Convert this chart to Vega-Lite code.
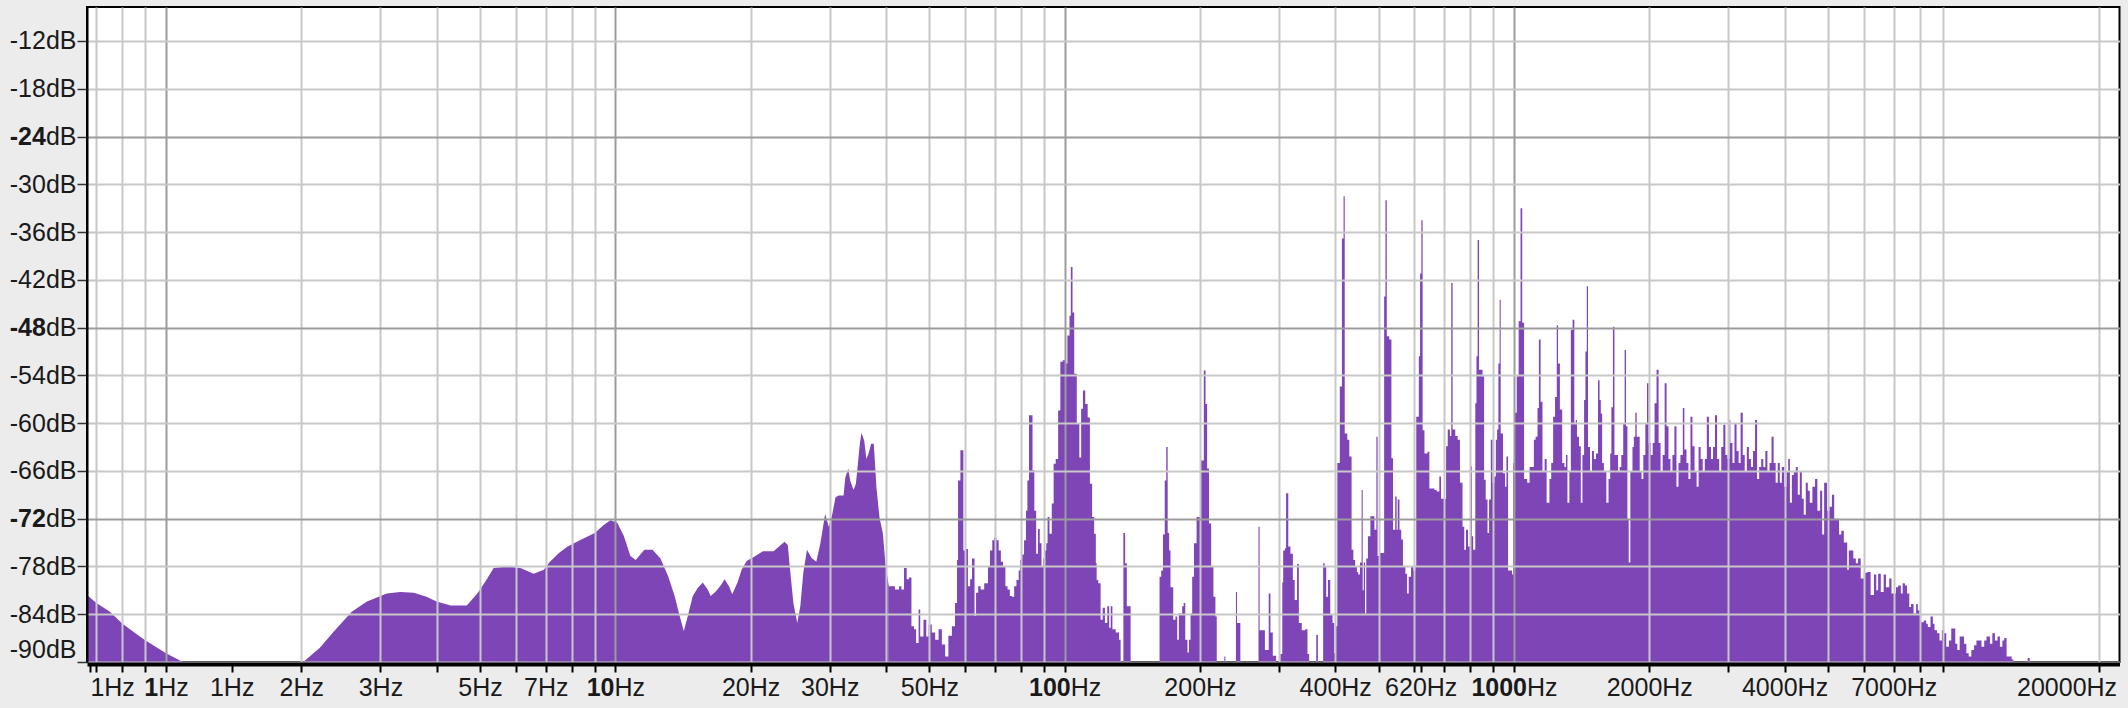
{
  "$schema": "https://vega.github.io/schema/vega-lite/v6.json",
  "width": 2032.5,
  "height": 655,
  "autosize": {"type": "none"},
  "padding": {"left": 87, "top": 7, "right": 8.5, "bottom": 46},
  "background": "#ececec",
  "view": {"fill": "#ffffff", "stroke": "#000000", "strokeWidth": 2},
  "config": {"axis": {"labelFont": "Liberation Sans", "labelFontSize": 25, "labelColor": "#1a1a1a"}},
  "datasets": {
    "smooth": [
      {"f": 0.667, "db": -81.6}, {"f": 0.7, "db": -82.6}, {"f": 0.75, "db": -83.7}, {"f": 0.8, "db": -85.2}, {"f": 0.89, "db": -87.1}, {"f": 1.0, "db": -88.9}, {"f": 1.09, "db": -90},
      {"f": 2.02, "db": -90}, {"f": 2.2, "db": -88.2}, {"f": 2.36, "db": -86.2}, {"f": 2.59, "db": -83.7}, {"f": 2.8, "db": -82.4}, {"f": 3.1, "db": -81.4}, {"f": 3.32, "db": -81.2}, {"f": 3.56, "db": -81.3}, {"f": 3.8, "db": -81.8}, {"f": 4.0, "db": -82.4}, {"f": 4.3, "db": -82.9}, {"f": 4.67, "db": -82.9}, {"f": 4.93, "db": -81.4}, {"f": 5.15, "db": -79.8}, {"f": 5.36, "db": -78.2}, {"f": 5.74, "db": -78.0}, {"f": 6.15, "db": -78.2}, {"f": 6.58, "db": -78.9}, {"f": 6.93, "db": -78.4}, {"f": 7.15, "db": -77.4}, {"f": 7.49, "db": -76.3}, {"f": 7.83, "db": -75.5}, {"f": 8.4, "db": -74.6}, {"f": 9.0, "db": -73.8}, {"f": 9.42, "db": -72.8}, {"f": 9.75, "db": -72.2}, {"f": 10.1, "db": -72.5}, {"f": 10.45, "db": -74.2}, {"f": 10.8, "db": -76.7}, {"f": 11.1, "db": -77.2}, {"f": 11.6, "db": -75.9}, {"f": 12.1, "db": -75.9}, {"f": 12.6, "db": -77.0}, {"f": 13.1, "db": -79.2}, {"f": 13.55, "db": -81.7}, {"f": 13.9, "db": -84.2}, {"f": 14.2, "db": -86.1}, {"f": 14.5, "db": -84.2}, {"f": 14.87, "db": -81.7}, {"f": 15.25, "db": -80.7}, {"f": 15.65, "db": -80.0}, {"f": 16.05, "db": -80.9}, {"f": 16.3, "db": -81.7}, {"f": 16.75, "db": -81.1}, {"f": 17.2, "db": -80.3}, {"f": 17.5, "db": -79.6}, {"f": 17.9, "db": -80.5}, {"f": 18.2, "db": -81.5}, {"f": 18.7, "db": -80.0}, {"f": 19.1, "db": -78.4}, {"f": 19.6, "db": -77.3}, {"f": 20.5, "db": -76.7}, {"f": 21.3, "db": -76.1}, {"f": 22.5, "db": -76.1}, {"f": 22.9, "db": -75.7}, {"f": 23.8, "db": -74.9}, {"f": 24.2, "db": -75.3}, {"f": 24.4, "db": -77.6}, {"f": 24.9, "db": -82.6}, {"f": 25.4, "db": -85.1}, {"f": 25.8, "db": -83.0}, {"f": 26.2, "db": -78.8}, {"f": 26.7, "db": -75.9}, {"f": 27.3, "db": -76.9}, {"f": 28.0, "db": -77.4}, {"f": 28.6, "db": -75.1}, {"f": 29.3, "db": -71.4}, {"f": 29.85, "db": -73.0}, {"f": 30.4, "db": -71.4}, {"f": 30.9, "db": -69.3}, {"f": 31.4, "db": -69.1}, {"f": 32.2, "db": -69.1}, {"f": 32.5, "db": -66.8}, {"f": 33.0, "db": -65.7}, {"f": 33.3, "db": -67.2}, {"f": 33.9, "db": -68.4}, {"f": 34.3, "db": -67.6}, {"f": 34.6, "db": -65.5}, {"f": 35.0, "db": -62.6}, {"f": 35.3, "db": -61.2}, {"f": 35.8, "db": -62.2}, {"f": 36.2, "db": -64.5}, {"f": 36.6, "db": -63.8}, {"f": 37.1, "db": -62.6}, {"f": 37.6, "db": -62.6}, {"f": 38.1, "db": -68.0}, {"f": 38.7, "db": -71.8}, {"f": 39.4, "db": -73.9}, {"f": 39.9, "db": -77.6}, {"f": 40.6, "db": -80.5}
    ],
    "spiky": [
      {"f": 40.6, "db": -80.5}, {"f": 41.9, "db": -80.9}, {"f": 42.8, "db": -80.5}, {"f": 43.3, "db": -80.9}, {"f": 43.9, "db": -78.2}, {"f": 44.5, "db": -79.6}, {"f": 45.0, "db": -79.4}, {"f": 45.6, "db": -85.5}, {"f": 46.2, "db": -85.9}, {"f": 46.7, "db": -87.6}, {"f": 47.3, "db": -83.4}, {"f": 47.7, "db": -86.8}, {"f": 48.5, "db": -84.7}, {"f": 49.2, "db": -86.8}, {"f": 49.8, "db": -85.3}, {"f": 50.6, "db": -86.3}, {"f": 51.5, "db": -87.2}, {"f": 52.4, "db": -85.9}, {"f": 53.3, "db": -87.8}, {"f": 54.2, "db": -89.3}, {"f": 55.1, "db": -86.7}, {"f": 56.1, "db": -85.5}, {"f": 57.0, "db": -82.6}, {"f": 57.6, "db": -77.2}, {"f": 57.9, "db": -67.2}, {"f": 58.6, "db": -63.4}, {"f": 59.5, "db": -76.0}, {"f": 60.2, "db": -75.8}, {"f": 60.9, "db": -80.5}, {"f": 61.6, "db": -79.6}, {"f": 62.2, "db": -77.0}, {"f": 63.0, "db": -84.2}, {"f": 63.5, "db": -81.3}, {"f": 64.2, "db": -80.5}, {"f": 65.0, "db": -80.9}, {"f": 66.2, "db": -80.1}, {"f": 67.5, "db": -78.0}, {"f": 68.2, "db": -76.0}, {"f": 69.0, "db": -74.7}, {"f": 69.7, "db": -74.4}, {"f": 70.5, "db": -74.7}, {"f": 71.3, "db": -76.0}, {"f": 72.1, "db": -77.4}, {"f": 72.9, "db": -78.0}, {"f": 73.8, "db": -80.5}, {"f": 74.6, "db": -80.9}, {"f": 75.5, "db": -81.7}, {"f": 76.3, "db": -81.8}, {"f": 77.2, "db": -80.5}, {"f": 78.1, "db": -79.7}, {"f": 79.0, "db": -78.5}, {"f": 79.6, "db": -77.2}, {"f": 80.4, "db": -76.5}, {"f": 81.2, "db": -74.7}, {"f": 82.0, "db": -71.0}, {"f": 82.6, "db": -67.2}, {"f": 83.3, "db": -59.0}, {"f": 84.8, "db": -65.9}, {"f": 85.6, "db": -71.0}, {"f": 86.4, "db": -76.4}, {"f": 87.2, "db": -73.3}, {"f": 88.0, "db": -75.1}, {"f": 88.8, "db": -78.0}, {"f": 89.6, "db": -77.0}, {"f": 90.4, "db": -76.0}, {"f": 91.0, "db": -75.1}, {"f": 91.6, "db": -71.8}, {"f": 92.5, "db": -73.9}, {"f": 93.6, "db": -70.1}, {"f": 94.5, "db": -65.1}, {"f": 95.5, "db": -64.5}, {"f": 96.7, "db": -58.4}, {"f": 97.8, "db": -52.3}, {"f": 99.0, "db": -52.1}, {"f": 100.2, "db": -52.5}, {"f": 101.4, "db": -49.0}, {"f": 102.5, "db": -46.5}, {"f": 103.2, "db": -40.4}, {"f": 104.1, "db": -46.1}, {"f": 105.0, "db": -53.8}, {"f": 106.4, "db": -60.1}, {"f": 107.8, "db": -64.3}, {"f": 108.8, "db": -58.2}, {"f": 109.8, "db": -55.9}, {"f": 111.1, "db": -57.6}, {"f": 112.5, "db": -59.3}, {"f": 113.8, "db": -67.6}, {"f": 115.1, "db": -71.8}, {"f": 116.3, "db": -73.9}, {"f": 117.3, "db": -77.6}, {"f": 117.8, "db": -79.7}, {"f": 118.8, "db": -80.1}, {"f": 120.2, "db": -84.7}, {"f": 121.5, "db": -83.2}, {"f": 122.9, "db": -85.1}, {"f": 124.4, "db": -83.0}, {"f": 125.6, "db": -85.7}, {"f": 126.6, "db": -83.0}, {"f": 127.7, "db": -85.9}, {"f": 129.9, "db": -86.3}, {"f": 132.1, "db": -87.2}, {"f": 133.2, "db": -89.9}, {"f": 134.4, "db": -90}, {"f": 135.1, "db": -73.8}, {"f": 136.3, "db": -77.6}, {"f": 137.5, "db": -83.0}, {"f": 140.2, "db": -90},
      {"f": 162.6, "db": -79.3}, {"f": 164.0, "db": -78.5}, {"f": 165.5, "db": -74.0}, {"f": 167.0, "db": -67.2}, {"f": 168.3, "db": -63.0}, {"f": 169.5, "db": -73.8}, {"f": 170.8, "db": -76.0}, {"f": 172.0, "db": -80.6}, {"f": 174.4, "db": -84.7}, {"f": 176.4, "db": -84.3}, {"f": 178.0, "db": -87.2}, {"f": 179.5, "db": -83.9}, {"f": 181.0, "db": -83.9}, {"f": 182.6, "db": -83.0}, {"f": 184.0, "db": -82.6}, {"f": 185.5, "db": -87.2}, {"f": 187.6, "db": -88.8}, {"f": 189.0, "db": -87.2}, {"f": 190.6, "db": -83.9}, {"f": 192.2, "db": -79.3}, {"f": 194.0, "db": -75.1}, {"f": 196.6, "db": -71.8}, {"f": 198.5, "db": -71.8}, {"f": 200.4, "db": -64.7}, {"f": 202.5, "db": -64.7}, {"f": 204.0, "db": -53.4}, {"f": 205.8, "db": -57.6}, {"f": 207.5, "db": -65.7}, {"f": 209.5, "db": -72.6}, {"f": 211.8, "db": -78.0}, {"f": 214.3, "db": -81.8}, {"f": 216.5, "db": -84.3}, {"f": 218.0, "db": -90}, {"f": 226.6, "db": -89.3}, {"f": 227.8, "db": -90}, {"f": 240.5, "db": -81.2}, {"f": 241.8, "db": -85.1}, {"f": 244.0, "db": -85.1}, {"f": 246.0, "db": -90}, {"f": 270.0, "db": -73.0}, {"f": 271.5, "db": -86.0}, {"f": 276.0, "db": -86.0}, {"f": 279.0, "db": -88.5}, {"f": 284.5, "db": -81.4}, {"f": 287.0, "db": -86.3}, {"f": 290.5, "db": -89.2}, {"f": 295.5, "db": -90}, {"f": 302.0, "db": -89.0}, {"f": 305.0, "db": -80.0}, {"f": 306.4, "db": -76.0}, {"f": 309.2, "db": -75.7}, {"f": 311.0, "db": -68.8}, {"f": 314.5, "db": -75.5}, {"f": 318.0, "db": -76.4}, {"f": 322.0, "db": -79.7}, {"f": 325.0, "db": -82.2}, {"f": 329.0, "db": -77.7}, {"f": 332.0, "db": -85.1}, {"f": 337.0, "db": -86.0}, {"f": 343.0, "db": -85.9}, {"f": 347.0, "db": -89.0}, {"f": 350.0, "db": -90}, {"f": 363.0, "db": -86.6}, {"f": 366.0, "db": -90}, {"f": 376.0, "db": -77.6}, {"f": 379.0, "db": -78.0}, {"f": 382.0, "db": -81.8}, {"f": 385.5, "db": -79.7}, {"f": 390.0, "db": -84.0}, {"f": 394.6, "db": -85.1}, {"f": 398.0, "db": -88.9}, {"f": 401.7, "db": -85.5},
      {"f": 404.4, "db": -65.0}, {"f": 409.5, "db": -55.4}, {"f": 414.0, "db": -36.8}, {"f": 417.5, "db": -31.5}, {"f": 420.0, "db": -61.3}, {"f": 425.5, "db": -62.1}, {"f": 430.0, "db": -64.2}, {"f": 435.0, "db": -75.9}, {"f": 439.0, "db": -77.2}, {"f": 443.0, "db": -78.0}, {"f": 447.0, "db": -78.7}, {"f": 450.0, "db": -79.0}, {"f": 454.0, "db": -77.5}, {"f": 458.0, "db": -68.4}, {"f": 460.5, "db": -81.0}, {"f": 463.0, "db": -77.5}, {"f": 466.0, "db": -83.9}, {"f": 469.0, "db": -77.0}, {"f": 473.0, "db": -74.2}, {"f": 479.0, "db": -71.7}, {"f": 485.0, "db": -71.7}, {"f": 489.0, "db": -73.4}, {"f": 494.0, "db": -61.7}, {"f": 497.0, "db": -76.7}, {"f": 503.0, "db": -76.3}, {"f": 510.0, "db": -76.3}, {"f": 514.0, "db": -44.1}, {"f": 517.5, "db": -32.0}, {"f": 521.0, "db": -49.1}, {"f": 527.5, "db": -49.5}, {"f": 533.5, "db": -64.4}, {"f": 538.0, "db": -73.4}, {"f": 544.0, "db": -69.2}, {"f": 548.0, "db": -73.4}, {"f": 551.0, "db": -69.6}, {"f": 556.0, "db": -73.4}, {"f": 561.0, "db": -74.6}, {"f": 566.0, "db": -78.0}, {"f": 573.0, "db": -78.9}, {"f": 578.0, "db": -81.4}, {"f": 583.0, "db": -79.3}, {"f": 590.0, "db": -78.0}, {"f": 597.0, "db": -78.5}, {"f": 603.0, "db": -78.0}, {"f": 606.0, "db": -59.2}, {"f": 614.0, "db": -51.6}, {"f": 618.0, "db": -41.2}, {"f": 622.0, "db": -34.5}, {"f": 626.0, "db": -60.9}, {"f": 632.0, "db": -63.8}, {"f": 642.0, "db": -63.6}, {"f": 648.0, "db": -68.2}, {"f": 665.0, "db": -68.4}, {"f": 673.0, "db": -68.6}, {"f": 682.0, "db": -66.7}, {"f": 688.0, "db": -69.5}, {"f": 697.0, "db": -69.5}, {"f": 706.0, "db": -62.9}, {"f": 712.0, "db": -60.8}, {"f": 720.0, "db": -61.6}, {"f": 725.0, "db": -42.4}, {"f": 730.0, "db": -60.8}, {"f": 740.0, "db": -61.6}, {"f": 749.0, "db": -62.1}, {"f": 758.0, "db": -67.5}, {"f": 768.0, "db": -73.0}, {"f": 775.0, "db": -75.9}, {"f": 782.0, "db": -73.4}, {"f": 790.0, "db": -75.5}, {"f": 798.0, "db": -65.4}, {"f": 806.0, "db": -74.2}, {"f": 811.0, "db": -75.9}, {"f": 820.0, "db": -57.5}, {"f": 825.0, "db": -51.6}, {"f": 830.0, "db": -37.0}, {"f": 836.0, "db": -53.3}, {"f": 851.0, "db": -54.1}, {"f": 858.0, "db": -67.1}, {"f": 865.0, "db": -69.6}, {"f": 873.0, "db": -73.8}, {"f": 880.0, "db": -69.6}, {"f": 888.0, "db": -62.1}, {"f": 896.0, "db": -67.5}, {"f": 904.0, "db": -66.7}, {"f": 911.0, "db": -62.1}, {"f": 917.0, "db": -60.8}, {"f": 923.0, "db": -52.5}, {"f": 929.0, "db": -44.5}, {"f": 934.0, "db": -61.3}, {"f": 945.0, "db": -66.3}, {"f": 955.0, "db": -68.0}, {"f": 962.0, "db": -64.2}, {"f": 970.0, "db": -78.5}, {"f": 990.0, "db": -79.0}, {"f": 996.0, "db": -65.0},
      {"f": 1004, "db": -58.7}, {"f": 1014, "db": -54.1}, {"f": 1024, "db": -47.2}, {"f": 1034, "db": -33.0}, {"f": 1043, "db": -47.4}, {"f": 1053, "db": -67.0}, {"f": 1070, "db": -67.5}, {"f": 1083, "db": -65.5}, {"f": 1094, "db": -65.5}, {"f": 1107, "db": -62.1}, {"f": 1117, "db": -61.7}, {"f": 1128, "db": -58.1}, {"f": 1136, "db": -49.5}, {"f": 1146, "db": -57.3}, {"f": 1157, "db": -66.0}, {"f": 1170, "db": -64.5}, {"f": 1182, "db": -70.0}, {"f": 1199, "db": -67.0}, {"f": 1210, "db": -65.0}, {"f": 1222, "db": -59.2}, {"f": 1234, "db": -56.7}, {"f": 1245, "db": -47.7}, {"f": 1253, "db": -52.5}, {"f": 1265, "db": -58.3}, {"f": 1280, "db": -65.0}, {"f": 1295, "db": -65.5}, {"f": 1305, "db": -64.0}, {"f": 1315, "db": -70.0}, {"f": 1328, "db": -66.0}, {"f": 1338, "db": -48.3}, {"f": 1350, "db": -47.0}, {"f": 1362, "db": -60.0}, {"f": 1372, "db": -59.6}, {"f": 1381, "db": -61.7}, {"f": 1395, "db": -62.9}, {"f": 1408, "db": -70.0}, {"f": 1420, "db": -64.0}, {"f": 1432, "db": -57.1}, {"f": 1442, "db": -51.0}, {"f": 1452, "db": -42.8}, {"f": 1461, "db": -63.0}, {"f": 1476, "db": -66.0}, {"f": 1491, "db": -63.5}, {"f": 1506, "db": -64.5}, {"f": 1522, "db": -63.8}, {"f": 1538, "db": -54.6}, {"f": 1550, "db": -57.1}, {"f": 1560, "db": -58.8}, {"f": 1571, "db": -65.0}, {"f": 1585, "db": -66.0}, {"f": 1605, "db": -70.0}, {"f": 1623, "db": -67.0}, {"f": 1637, "db": -63.8}, {"f": 1647, "db": -58.0}, {"f": 1660, "db": -47.9}, {"f": 1673, "db": -64.0}, {"f": 1690, "db": -64.0}, {"f": 1704, "db": -66.0}, {"f": 1718, "db": -65.5}, {"f": 1733, "db": -64.0}, {"f": 1750, "db": -60.0}, {"f": 1763, "db": -50.8}, {"f": 1775, "db": -60.4}, {"f": 1788, "db": -72.0}, {"f": 1800, "db": -77.5}, {"f": 1815, "db": -66.0}, {"f": 1835, "db": -63.0}, {"f": 1848, "db": -61.7}, {"f": 1862, "db": -58.7}, {"f": 1875, "db": -61.7}, {"f": 1888, "db": -61.7}, {"f": 1904, "db": -66.0}, {"f": 1922, "db": -67.0}, {"f": 1940, "db": -64.0}, {"f": 1960, "db": -60.0}, {"f": 1977, "db": -55.0}, {"f": 1993, "db": -62.5}, {"f": 2014, "db": -64.0}, {"f": 2035, "db": -62.5}, {"f": 2055, "db": -57.5}, {"f": 2076, "db": -53.3}, {"f": 2098, "db": -62.5}, {"f": 2119, "db": -66.0}, {"f": 2142, "db": -64.0}, {"f": 2164, "db": -55.0}, {"f": 2185, "db": -60.4}, {"f": 2207, "db": -64.5}, {"f": 2229, "db": -66.0}, {"f": 2252, "db": -64.0}, {"f": 2275, "db": -60.4}, {"f": 2299, "db": -68.0}, {"f": 2323, "db": -65.0}, {"f": 2346, "db": -64.0}, {"f": 2375, "db": -58.1}, {"f": 2394, "db": -63.3}, {"f": 2420, "db": -65.0}, {"f": 2444, "db": -67.0}, {"f": 2470, "db": -59.2}, {"f": 2495, "db": -62.9}, {"f": 2522, "db": -66.0}, {"f": 2549, "db": -68.0}, {"f": 2575, "db": -63.0}, {"f": 2602, "db": -64.5}, {"f": 2630, "db": -66.0}, {"f": 2658, "db": -64.5}, {"f": 2686, "db": -59.2}, {"f": 2715, "db": -63.0}, {"f": 2744, "db": -64.5}, {"f": 2773, "db": -63.0}, {"f": 2801, "db": -59.0}, {"f": 2831, "db": -64.5}, {"f": 2862, "db": -66.0}, {"f": 2892, "db": -63.0}, {"f": 2923, "db": -60.2}, {"f": 2954, "db": -64.0}, {"f": 2985, "db": -64.5}, {"f": 3017, "db": -59.6}, {"f": 3030, "db": -62.5}, {"f": 3063, "db": -65.0}, {"f": 3095, "db": -60.0}, {"f": 3128, "db": -63.5}, {"f": 3161, "db": -65.0}, {"f": 3194, "db": -58.7}, {"f": 3229, "db": -64.0}, {"f": 3262, "db": -66.0}, {"f": 3297, "db": -63.0}, {"f": 3332, "db": -64.5}, {"f": 3367, "db": -65.5}, {"f": 3403, "db": -63.5}, {"f": 3439, "db": -59.6}, {"f": 3475, "db": -67.0}, {"f": 3512, "db": -65.5}, {"f": 3550, "db": -64.5}, {"f": 3587, "db": -65.5}, {"f": 3625, "db": -63.5}, {"f": 3664, "db": -66.0}, {"f": 3703, "db": -65.0}, {"f": 3742, "db": -61.7}, {"f": 3782, "db": -65.0}, {"f": 3822, "db": -67.5}, {"f": 3863, "db": -65.0}, {"f": 3904, "db": -67.5}, {"f": 3945, "db": -65.5}, {"f": 3994, "db": -68.0}, {"f": 4042, "db": -66.0}, {"f": 4076, "db": -64.5}, {"f": 4111, "db": -70.0}, {"f": 4153, "db": -66.5}, {"f": 4195, "db": -66.0}, {"f": 4238, "db": -65.5}, {"f": 4281, "db": -69.0}, {"f": 4325, "db": -66.0}, {"f": 4370, "db": -69.5}, {"f": 4414, "db": -71.5}, {"f": 4460, "db": -67.5}, {"f": 4506, "db": -68.5}, {"f": 4552, "db": -70.0}, {"f": 4614, "db": -68.0}, {"f": 4677, "db": -67.0}, {"f": 4733, "db": -71.0}, {"f": 4800, "db": -68.5}, {"f": 4851, "db": -74.0}, {"f": 4900, "db": -67.5}, {"f": 4972, "db": -71.0}, {"f": 5034, "db": -70.5}, {"f": 5100, "db": -69.0}, {"f": 5159, "db": -72.0}, {"f": 5230, "db": -72.0}, {"f": 5289, "db": -74.0}, {"f": 5350, "db": -73.5}, {"f": 5420, "db": -75.0}, {"f": 5515, "db": -78.4}, {"f": 5560, "db": -76.0}, {"f": 5620, "db": -76.0}, {"f": 5690, "db": -77.0}, {"f": 5764, "db": -77.6}, {"f": 5830, "db": -77.0}, {"f": 5910, "db": -79.5}, {"f": 6005, "db": -78.8}, {"f": 6114, "db": -78.7}, {"f": 6218, "db": -81.6}, {"f": 6325, "db": -79.0}, {"f": 6400, "db": -81.0}, {"f": 6462, "db": -78.9}, {"f": 6550, "db": -81.2}, {"f": 6648, "db": -79.0}, {"f": 6726, "db": -80.6}, {"f": 6841, "db": -79.5}, {"f": 6920, "db": -81.4}, {"f": 7017, "db": -81.4}, {"f": 7082, "db": -80.6}, {"f": 7160, "db": -80.4}, {"f": 7260, "db": -81.4}, {"f": 7326, "db": -80.1}, {"f": 7412, "db": -80.4}, {"f": 7493, "db": -81.4}, {"f": 7580, "db": -83.1}, {"f": 7650, "db": -82.7}, {"f": 7748, "db": -83.9}, {"f": 7850, "db": -82.7}, {"f": 7917, "db": -83.5}, {"f": 7986, "db": -84.1}, {"f": 8052, "db": -85.0}, {"f": 8164, "db": -84.8}, {"f": 8265, "db": -85.2}, {"f": 8335, "db": -85.6}, {"f": 8450, "db": -84.3}, {"f": 8553, "db": -85.2}, {"f": 8626, "db": -86.0}, {"f": 8744, "db": -86.4}, {"f": 8850, "db": -87.3}, {"f": 8957, "db": -86.0}, {"f": 9050, "db": -86.4}, {"f": 9160, "db": -88.1}, {"f": 9287, "db": -87.3}, {"f": 9399, "db": -85.8}, {"f": 9513, "db": -85.8}, {"f": 9595, "db": -87.7}, {"f": 9695, "db": -88.5}, {"f": 9813, "db": -86.8}, {"f": 9931, "db": -86.8}, {"f": 10035, "db": -87.7}, {"f": 10156, "db": -88.9}, {"f": 10279, "db": -89.3}, {"f": 10420, "db": -88.5}, {"f": 10565, "db": -87.9}, {"f": 10694, "db": -87.3}, {"f": 10824, "db": -87.3}, {"f": 10975, "db": -88.1}, {"f": 11128, "db": -87.3}, {"f": 11264, "db": -86.8}, {"f": 11461, "db": -87.7}, {"f": 11602, "db": -86.4}, {"f": 11755, "db": -87.3}, {"f": 11915, "db": -86.8}, {"f": 12061, "db": -88.1}, {"f": 12213, "db": -87.3}, {"f": 12333, "db": -87.0}, {"f": 12480, "db": -89.3}, {"f": 12630, "db": -89.3}, {"f": 12810, "db": -89.7}, {"f": 12920, "db": -90}, {"f": 13906, "db": -89.5}, {"f": 14050, "db": -90}, {"f": 22260, "db": -90}
    ]
  },
  "layer": [
    {
      "data": {"name": "smooth"},
      "mark": {"type": "area", "interpolate": "linear", "color": "#7e45b6", "clip": true},
      "encoding": {
        "x": {
          "field": "f", "type": "quantitative",
          "scale": {"type": "log", "domain": [0.667, 22260], "nice": false, "zero": false},
          "axis": {
            "orient": "bottom", "title": null, "offset": 2, "zindex": 1,
            "values": [0.677, 0.7, 0.8, 0.9, 1, 1.4, 2, 3, 4, 5, 6, 7, 8, 9, 10, 20, 30, 40, 50, 60, 70, 80, 90, 100, 200, 300, 400, 500, 600, 620, 700, 800, 900, 1000, 2000, 3000, 4000, 5000, 6000, 7000, 8000, 9000, 20000],
            "domain": true, "domainColor": "#000000", "domainWidth": 4,
            "ticks": true, "tickColor": "#000000", "tickWidth": 2, "tickSize": 8,
            "grid": true, "gridWidth": 2,
            "gridColor": {"condition": {"test": "datum.value == 1 || datum.value == 10 || datum.value == 100 || datum.value == 1000", "value": "#9c9c9c"}, "value": "#c8c8c8"},
            "gridOpacity": {"condition": {"test": "datum.value == 0.677 || datum.value == 1.4 || datum.value == 620", "value": 0}, "value": 1},
            "labelExpr": "(datum.value == 1 || datum.value == 10 || datum.value == 100 || datum.value == 1000) ? 'Hz' : (datum.value == 0.677 || datum.value == 1.4) ? '1Hz' : indexof([2,3,5,7,20,30,50,200,400,620,2000,4000,7000,20000], datum.value) >= 0 ? datum.value + 'Hz' : ''",
            "labelAlign": {"condition": [{"test": "datum.value == 20000", "value": "right"}, {"test": "datum.value == 0.677 || datum.value == 1 || datum.value == 10 || datum.value == 100 || datum.value == 1000", "value": "left"}], "value": "center"},
            "labelOffset": {"condition": [{"test": "datum.value == 1", "value": -8.3}, {"test": "datum.value == 10", "value": -1.4}, {"test": "datum.value == 100", "value": 5.6}, {"test": "datum.value == 1000", "value": 12.5}, {"test": "datum.value == 20000", "value": 18}], "value": 0},
            "labelBaseline": "top", "labelPadding": 3, "labelOverlap": false, "labelBound": false, "labelFlush": false
          }
        },
        "y": {
          "field": "db", "type": "quantitative",
          "scale": {"domain": [-90, -7.73], "nice": false, "zero": false},
          "axis": {
            "orient": "left", "title": null, "zindex": 1,
            "values": [-90, -84, -78, -72, -66, -60, -54, -48, -42, -36, -30, -24, -18, -12],
            "domain": true, "domainColor": "#000000", "domainWidth": 2,
            "ticks": true, "tickSize": 10, "tickColor": "#333333", "tickWidth": 1.5,
            "grid": true, "gridWidth": 2,
            "gridColor": {"condition": {"test": "datum.value == -24 || datum.value == -48 || datum.value == -72", "value": "#9c9c9c"}, "value": "#c8c8c8"},
            "labelExpr": "(datum.value == -24 || datum.value == -48 || datum.value == -72) ? 'dB' : datum.value + 'dB'",
            "labelAlign": "right", "labelPadding": 1,
            "labelBaseline": {"condition": {"test": "datum.value == -90", "value": "bottom"}, "value": "middle"},
            "labelOverlap": false, "labelBound": false, "labelFlush": false
          }
        },
        "y2": {"datum": -90}
      }
    },
    {
      "data": {"name": "spiky"},
      "mark": {"type": "area", "interpolate": "step-after", "color": "#7e45b6", "clip": true},
      "encoding": {
        "x": {
          "field": "f", "type": "quantitative",
          "scale": {"type": "log", "domain": [0.667, 22260], "nice": false, "zero": false},
          "axis": {
            "orient": "bottom", "title": null, "offset": 2, "zindex": 1,
            "values": [1, 10, 100, 1000],
            "domain": false, "grid": false,
            "ticks": true, "tickSize": 8, "tickOpacity": 0,
            "labelExpr": "datum.value + ''", "labelFontWeight": "bold",
            "labelAlign": "right",
            "labelOffset": {"condition": [{"test": "datum.value == 1", "value": -8.3}, {"test": "datum.value == 10", "value": -1.4}, {"test": "datum.value == 100", "value": 5.6}, {"test": "datum.value == 1000", "value": 12.5}], "value": 0},
            "labelBaseline": "top", "labelPadding": 3, "labelOverlap": false, "labelBound": false, "labelFlush": false
          }
        },
        "y": {
          "field": "db", "type": "quantitative",
          "scale": {"domain": [-90, -7.73], "nice": false, "zero": false},
          "axis": {
            "orient": "left", "title": null, "zindex": 1,
            "values": [-72, -48, -24],
            "domain": false, "grid": false,
            "ticks": true, "tickSize": 10, "tickOpacity": 0,
            "labelExpr": "datum.value + ''", "labelFontWeight": "bold",
            "labelAlign": "right", "labelPadding": 31.6, "labelBaseline": "middle",
            "labelOverlap": false, "labelBound": false, "labelFlush": false
          }
        },
        "y2": {"datum": -90}
      }
    }
  ],
  "resolve": {"axis": {"x": "independent", "y": "independent"}}
}
